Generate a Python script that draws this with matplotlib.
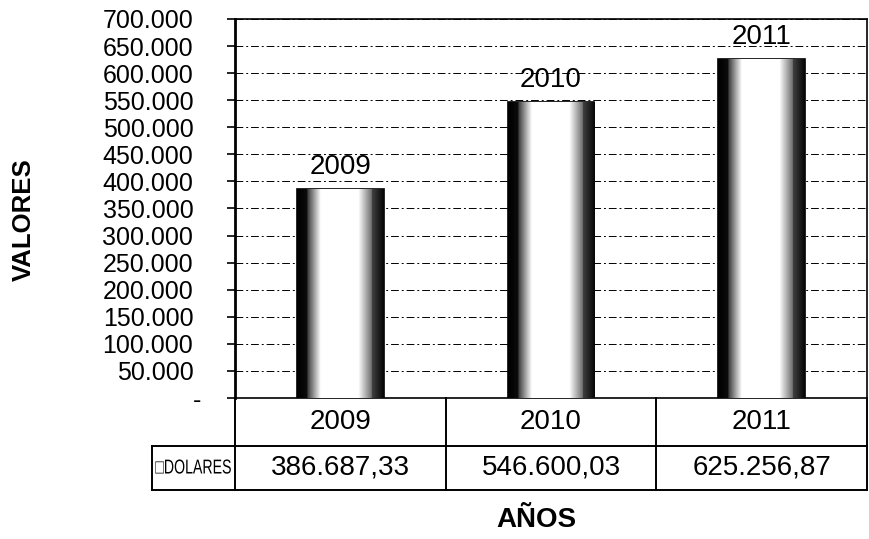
import numpy as np
import matplotlib
matplotlib.use("Agg")
import matplotlib.pyplot as plt
from matplotlib.colors import LinearSegmentedColormap
from matplotlib.transforms import ScaledTranslation, Affine2D
from matplotlib.patheffects import AbstractPathEffect

plt.rcParams['font.family'] = ['Liberation Sans', 'DejaVu Sans']

years = ['2009', '2010', '2011']
dolares = [386687.33, 546600.03, 625256.87]
dolares_txt = ['386.687,33', '546.600,03', '625.256,87']
yticks = np.arange(0, 700001, 50000)

def fmt(v):
    if v == 0:
        return '-'
    return f"{int(v):,}".replace(',', '.')


class HStretch(AbstractPathEffect):
    # squeeze text sideways around x0 (display px), like a narrow font
    def __init__(self, sx, x0):
        super().__init__()
        self.sx = sx
        self.x0 = x0

    def draw_path(self, renderer, gc, tpath, affine, rgbFace=None):
        aff = affine + Affine2D().translate(-self.x0, 0).scale(self.sx, 1).translate(self.x0, 0)
        renderer.draw_path(gc, tpath, aff, rgbFace)


fig = plt.figure(figsize=(8.69, 5.39), dpi=100)
ax = fig.add_axes([235/869, 1-398/539, 632/869, 379/539])

x = np.arange(len(years))
bw = 0.41
bars = ax.bar(x, dolares, width=bw, color='white', edgecolor='black', linewidth=1.2, zorder=3)

# shaded look of the bars (dark sides, light middle)
prof = np.concatenate([np.linspace(0.0, 0.05, 12), np.linspace(0.25, 1, 16),
                       np.ones(42), np.linspace(1, 0.45, 16), np.linspace(0.25, 0.03, 14)])
cmap = LinearSegmentedColormap.from_list('g', ['black', 'white'])
for b in bars:
    im = ax.imshow(prof[np.newaxis, :], cmap=cmap, vmin=0, vmax=1, aspect='auto',
                   extent=[b.get_x(), b.get_x() + b.get_width(), 0, b.get_height()], zorder=3.5)
    im.set_clip_path(b)

for xi, v, lab in zip(x, dolares, years):
    ax.annotate(lab, (xi, v), xytext=(0, 6.5), textcoords='offset points',
                ha='center', va='bottom', fontsize=20, color='black')

ax.set_xlim(-0.5, len(years) - 0.5)
ax.set_ylim(0, 700000)
ax.set_yticks(yticks)
ax.set_yticklabels([fmt(v) for v in yticks], fontsize=18)
ax.set_xticks([])
ax.yaxis.grid(True, color='black', linestyle=(0, (8, 3, 2, 3)), linewidth=0.7, zorder=1)
ax.tick_params(axis='y', length=6, width=1.2, pad=24)
# the "-" for zero sits a bit further right
zl = ax.get_yticklabels()[0]
zl.set_transform(zl.get_transform() + ScaledTranslation(6/72, 0, fig.dpi_scale_trans))
for s in ['top', 'right', 'bottom']:
    ax.spines[s].set_linewidth(1.2)
ax.spines['left'].set_linewidth(2)

# data table under the chart
tr = ax.get_xaxis_transform()
r0, r1, r2 = 0.0, -48/379, -92/379
lab_left = -0.5 - 83/211
lw = 1.4
kw = dict(transform=tr, color='black', linewidth=lw, clip_on=False, solid_capstyle='projecting')
ax.plot([-0.5, 2.5], [r1, r1], **kw)
ax.plot([lab_left, 2.5], [r2, r2], **kw)
ax.plot([lab_left, lab_left], [r1, r2], **kw)
for xb in np.arange(-0.5, 2.6, 1.0):
    ax.plot([xb, xb], [r0, r2], **kw)
ax.plot([lab_left, -0.5], [r1, r1], **kw)
for xi, y, t in zip(x, years, dolares_txt):
    ax.text(xi, (r0 + r1) / 2, y, transform=tr, ha='center', va='center', fontsize=20)
    ax.text(xi, (r1 + r2) / 2, t, transform=tr, ha='center', va='center', fontsize=20)

lx = lab_left + 0.015
lab = ax.text(lx, (r1 + r2) / 2, '\u25a1DOLARES', transform=tr, ha='left',
              va='center', fontsize=14.5)
rend = fig.canvas.get_renderer()
w = lab.get_window_extent(rend).width
x0 = tr.transform((lx, 0))[0]
lab.set_path_effects([HStretch(76 / w, x0)])

fig.text(24/869, 1-220/539, 'VALORES', rotation=90, ha='center', va='center',
         fontsize=18.5, fontweight='bold')
fig.text(536/869, 1-520/539, 'AÑOS', ha='center', va='center',
         fontsize=20, fontweight='bold')

fig.savefig('out.png', dpi=100)
